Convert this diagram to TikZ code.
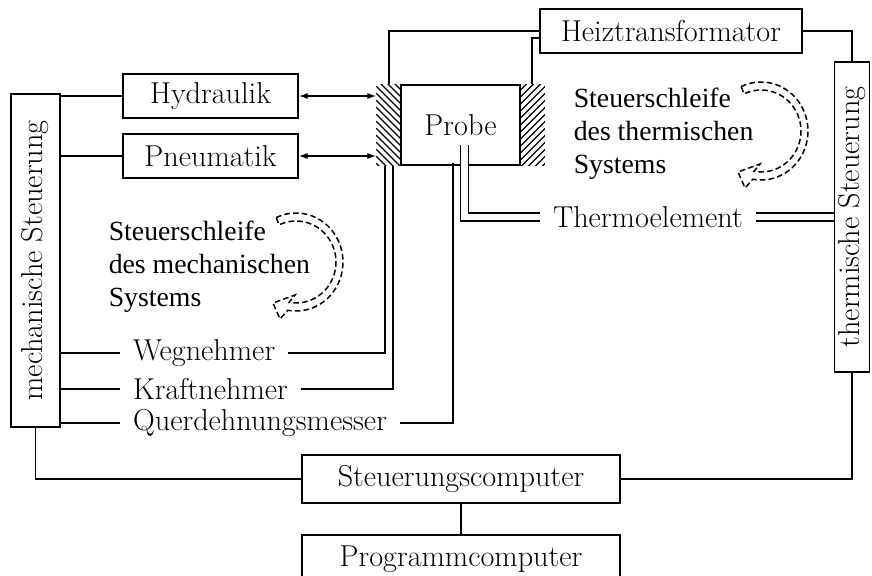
\documentclass[tikz,border=0pt]{standalone}
\usepackage{fontspec}
\newfontfamily\loopfont{Liberation Serif}
\usetikzlibrary{arrows.meta,positioning,calc}

\begin{document}
\begin{tikzpicture}[x=0.02cm,y=-0.02cm,>={Latex[length=5pt,width=3.5pt]},
   font=\fontsize{17.2}{20.6}\selectfont,line width=0.9pt,
   box/.style={draw,inner sep=0pt,minimum height=0.88cm},
   lbl/.style={inner xsep=7pt,inner ysep=0pt,anchor=west},
   hatch/.style={inner sep=0pt,minimum width=0.48cm,minimum height=1.6cm},
   wire2/.style={double,double distance=0.13cm},
   looptext/.style={font=\loopfont\fontsize{15.8}{18.8}\selectfont,align=left,anchor=west,inner sep=0pt},
   loop arrow/.pic={
     \draw[dash pattern=on 3.2pt off 1.8pt,line width=0.85pt]
       (-115:47 and 49) arc[start angle=-115,end angle=100,x radius=47,y radius=49]
       -- (-16,57) -- (-23,41) -- (-1,33) -- (100:40 and 41)
       arc[start angle=100,end angle=-115,x radius=40,y radius=41] -- cycle;
   }]
  \path[use as bounding box,clip] (0,0) rectangle (872,575);
  % boxes
  \node[box,minimum width=0.98cm,minimum height=6.66cm] (mech) at (35.5,260.5) {\rotatebox{90}{mechanische Steuerung}};
  \node[box,minimum width=0.7cm,minimum height=6.2cm] (therm) at (852,217) {\rotatebox{90}{thermische Steuerung}};
  \node[box,minimum width=3.5cm] (hyd) at (210.5,96) {Hydraulik};
  \node[box,minimum width=3.5cm] (pneu) at (210.5,156) {Pneumatik};
  \node[hatch] (hl) at (389,125) {};
  \node[box,minimum width=2.38cm,minimum height=1.6cm] (probe) at (460.5,125) {Probe};
  \node[hatch] (hr) at (532,125) {};
  \node[box,minimum width=5.24cm] (heiz) at (671,31) {Heiztransformator};
  \node[box,minimum width=6.36cm,minimum height=0.96cm] (steu) at (461,479) {Steuerungscomputer};
  \node[box,minimum width=6.36cm,minimum height=0.96cm] (prog) at (461,559) {Programmcomputer};
  % sensors
  \node[lbl] (weg) at (120,353) {Wegnehmer};
  \node[lbl] (kraft) at (120,389) {Kraftnehmer};
  \node[lbl] (quer) at (120,423) {Querdehnungsmesser};
  \node[lbl] (thermo) at (540,217) {Thermoelement};
  % control loops
  \node[looptext] (mloop) at (108,267) {Steuerschleife\\des mechanischen\\Systems};
  \node[looptext] (tloop) at (573,134) {Steuerschleife\\des thermischen\\Systems};
  \pic at (296,262) {loop arrow};
  \pic at (761,131) {loop arrow};
  % clamps
  \begin{scope}
    \clip (hl.north west) rectangle (hl.south east);
    \foreach \k in {0,...,16}
      \draw[line width=0.75pt] ($(hl.north west)+(0,-26+\k*7)$) -- ++(26,26);
  \end{scope}
  \begin{scope}
    \clip (hr.north west) rectangle (hr.south east);
    \foreach \k in {0,...,16}
      \draw[line width=0.75pt] ($(hr.north west)+(0,\k*7)$) -- ++(26,-26);
  \end{scope}
  % connections
  \draw (mech.east |- hyd) -- (hyd.west);
  \draw (mech.east |- pneu) -- (pneu.west);
  \draw[<->] (hyd.east) -- (hyd.east -| hl.west);
  \draw[<->] (pneu.east) -- (pneu.east -| hl.west);
  \draw (hl.north) |- (heiz.west);
  \draw (hr.north) |- ($(heiz.west)+(0,7)$);
  \draw (heiz.east) -| (therm.north);
  \draw (therm.south) |- (steu.east);
  \draw (mech.south) |- (steu.west);
  \draw (steu) -- (prog);
  \draw (mech.east |- weg) -- (weg.west);
  \draw (mech.east |- kraft) -- (kraft.west);
  \draw (mech.east |- quer) -- (quer.west);
  \draw (weg.east) -| ($(hl.south)+(-4,0)$);
  \draw (kraft.east) -| ($(hl.south)+(4,0)$);
  \draw (quer.east) -| ($(probe.south)+(-7.5,-3)$);
  \draw[wire2] ($(probe.center)+(4,20)$) |- (thermo.west);
  \draw[wire2] (thermo.east) -- (thermo.east -| therm.west);
\end{tikzpicture}
\end{document}
